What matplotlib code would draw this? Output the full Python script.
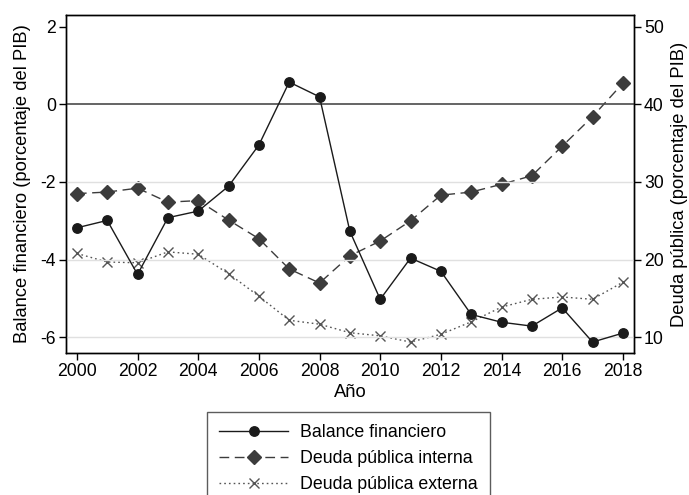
import matplotlib.pyplot as plt

plt.rcParams['font.family'] = ['Liberation Sans', 'DejaVu Sans']
plt.rcParams['axes.unicode_minus'] = False

years = list(range(2000, 2019))
balance = [-3.18, -2.99, -4.38, -2.92, -2.75, -2.11, -1.05, 0.57, 0.19, -3.27,
           -5.02, -3.96, -4.30, -5.41, -5.61, -5.71, -5.24, -6.12, -5.89]
deuda_interna = [28.5, 28.7, 29.2, 27.4, 27.6, 25.1, 22.7, 18.8, 17.0, 20.5,
                 22.4, 25.0, 28.3, 28.7, 29.7, 30.8, 34.6, 38.4, 42.7]
deuda_externa = [20.8, 19.7, 19.6, 21.0, 20.7, 18.2, 15.3, 12.2, 11.7, 10.6,
                 10.2, 9.4, 10.4, 12.0, 13.9, 14.9, 15.2, 14.9, 17.1]

left_ticks = [2, 0, -2, -4, -6]
right_ticks = [50, 40, 30, 20, 10]
x_ticks = list(range(2000, 2019, 2))

tick_fs = 12.7
label_fs = 13.2
legend_fs = 12.8

fig = plt.figure(figsize=(6.89, 4.95), dpi=100)
ax = fig.add_axes([0.0953, 0.287, 0.825, 0.683])
ax2 = ax.twinx()

# light grid and dark zero reference line
for y in [-2, -4, -6]:
    ax.axhline(y, color='#e0e0e0', lw=1.0, zorder=0)
ax.axhline(0, color='#4a4a4a', lw=1.2, zorder=1)

l1, = ax.plot(years, balance, color='#1a1a1a', lw=1.0, marker='o',
              markersize=6.8, zorder=5)
l2, = ax2.plot(years, deuda_interna, color='#3c3c3c', lw=1.0,
               dashes=(7, 4), marker='D', markersize=7, zorder=4)
l3, = ax2.plot(years, deuda_externa, color='#555555', lw=1.0,
               linestyle=(0, (1.2, 2.2)), marker='x', markersize=6.5,
               markeredgewidth=1.0, zorder=3)

ax.set_xlim(1999.63, 2018.37)
ax.set_ylim(-6.4, 2.3)
ax2.set_ylim(8.0, 51.5)
ax.set_xticks(x_ticks)
ax.set_yticks(left_ticks)
ax2.set_yticks(right_ticks)

for a in (ax, ax2):
    a.tick_params(labelsize=tick_fs, length=5, width=1, direction='out', pad=2)
    for s in a.spines.values():
        s.set_linewidth(1.0)

ax.set_xlabel('Año', fontsize=label_fs, labelpad=3)
ax.set_ylabel('Balance financiero (porcentaje del PIB)', fontsize=label_fs, labelpad=7)
ax2.set_ylabel('Deuda pública (porcentaje del PIB)', fontsize=label_fs, labelpad=5)

ax.set_zorder(ax2.get_zorder() + 1)
ax.patch.set_visible(False)

leg = fig.legend([l1, l2, l3],
                 ['Balance financiero', 'Deuda pública interna', 'Deuda pública externa'],
                 loc='upper left', bbox_to_anchor=(207 / 689, 1 - 412 / 495),
                 fontsize=legend_fs, frameon=True, fancybox=False, edgecolor='#333333',
                 handlelength=3.85, handletextpad=0.7, labelspacing=0.5,
                 borderpad=0.7, borderaxespad=0)
leg.get_frame().set_linewidth(1.0)

fig.savefig('out.png', dpi=100)
